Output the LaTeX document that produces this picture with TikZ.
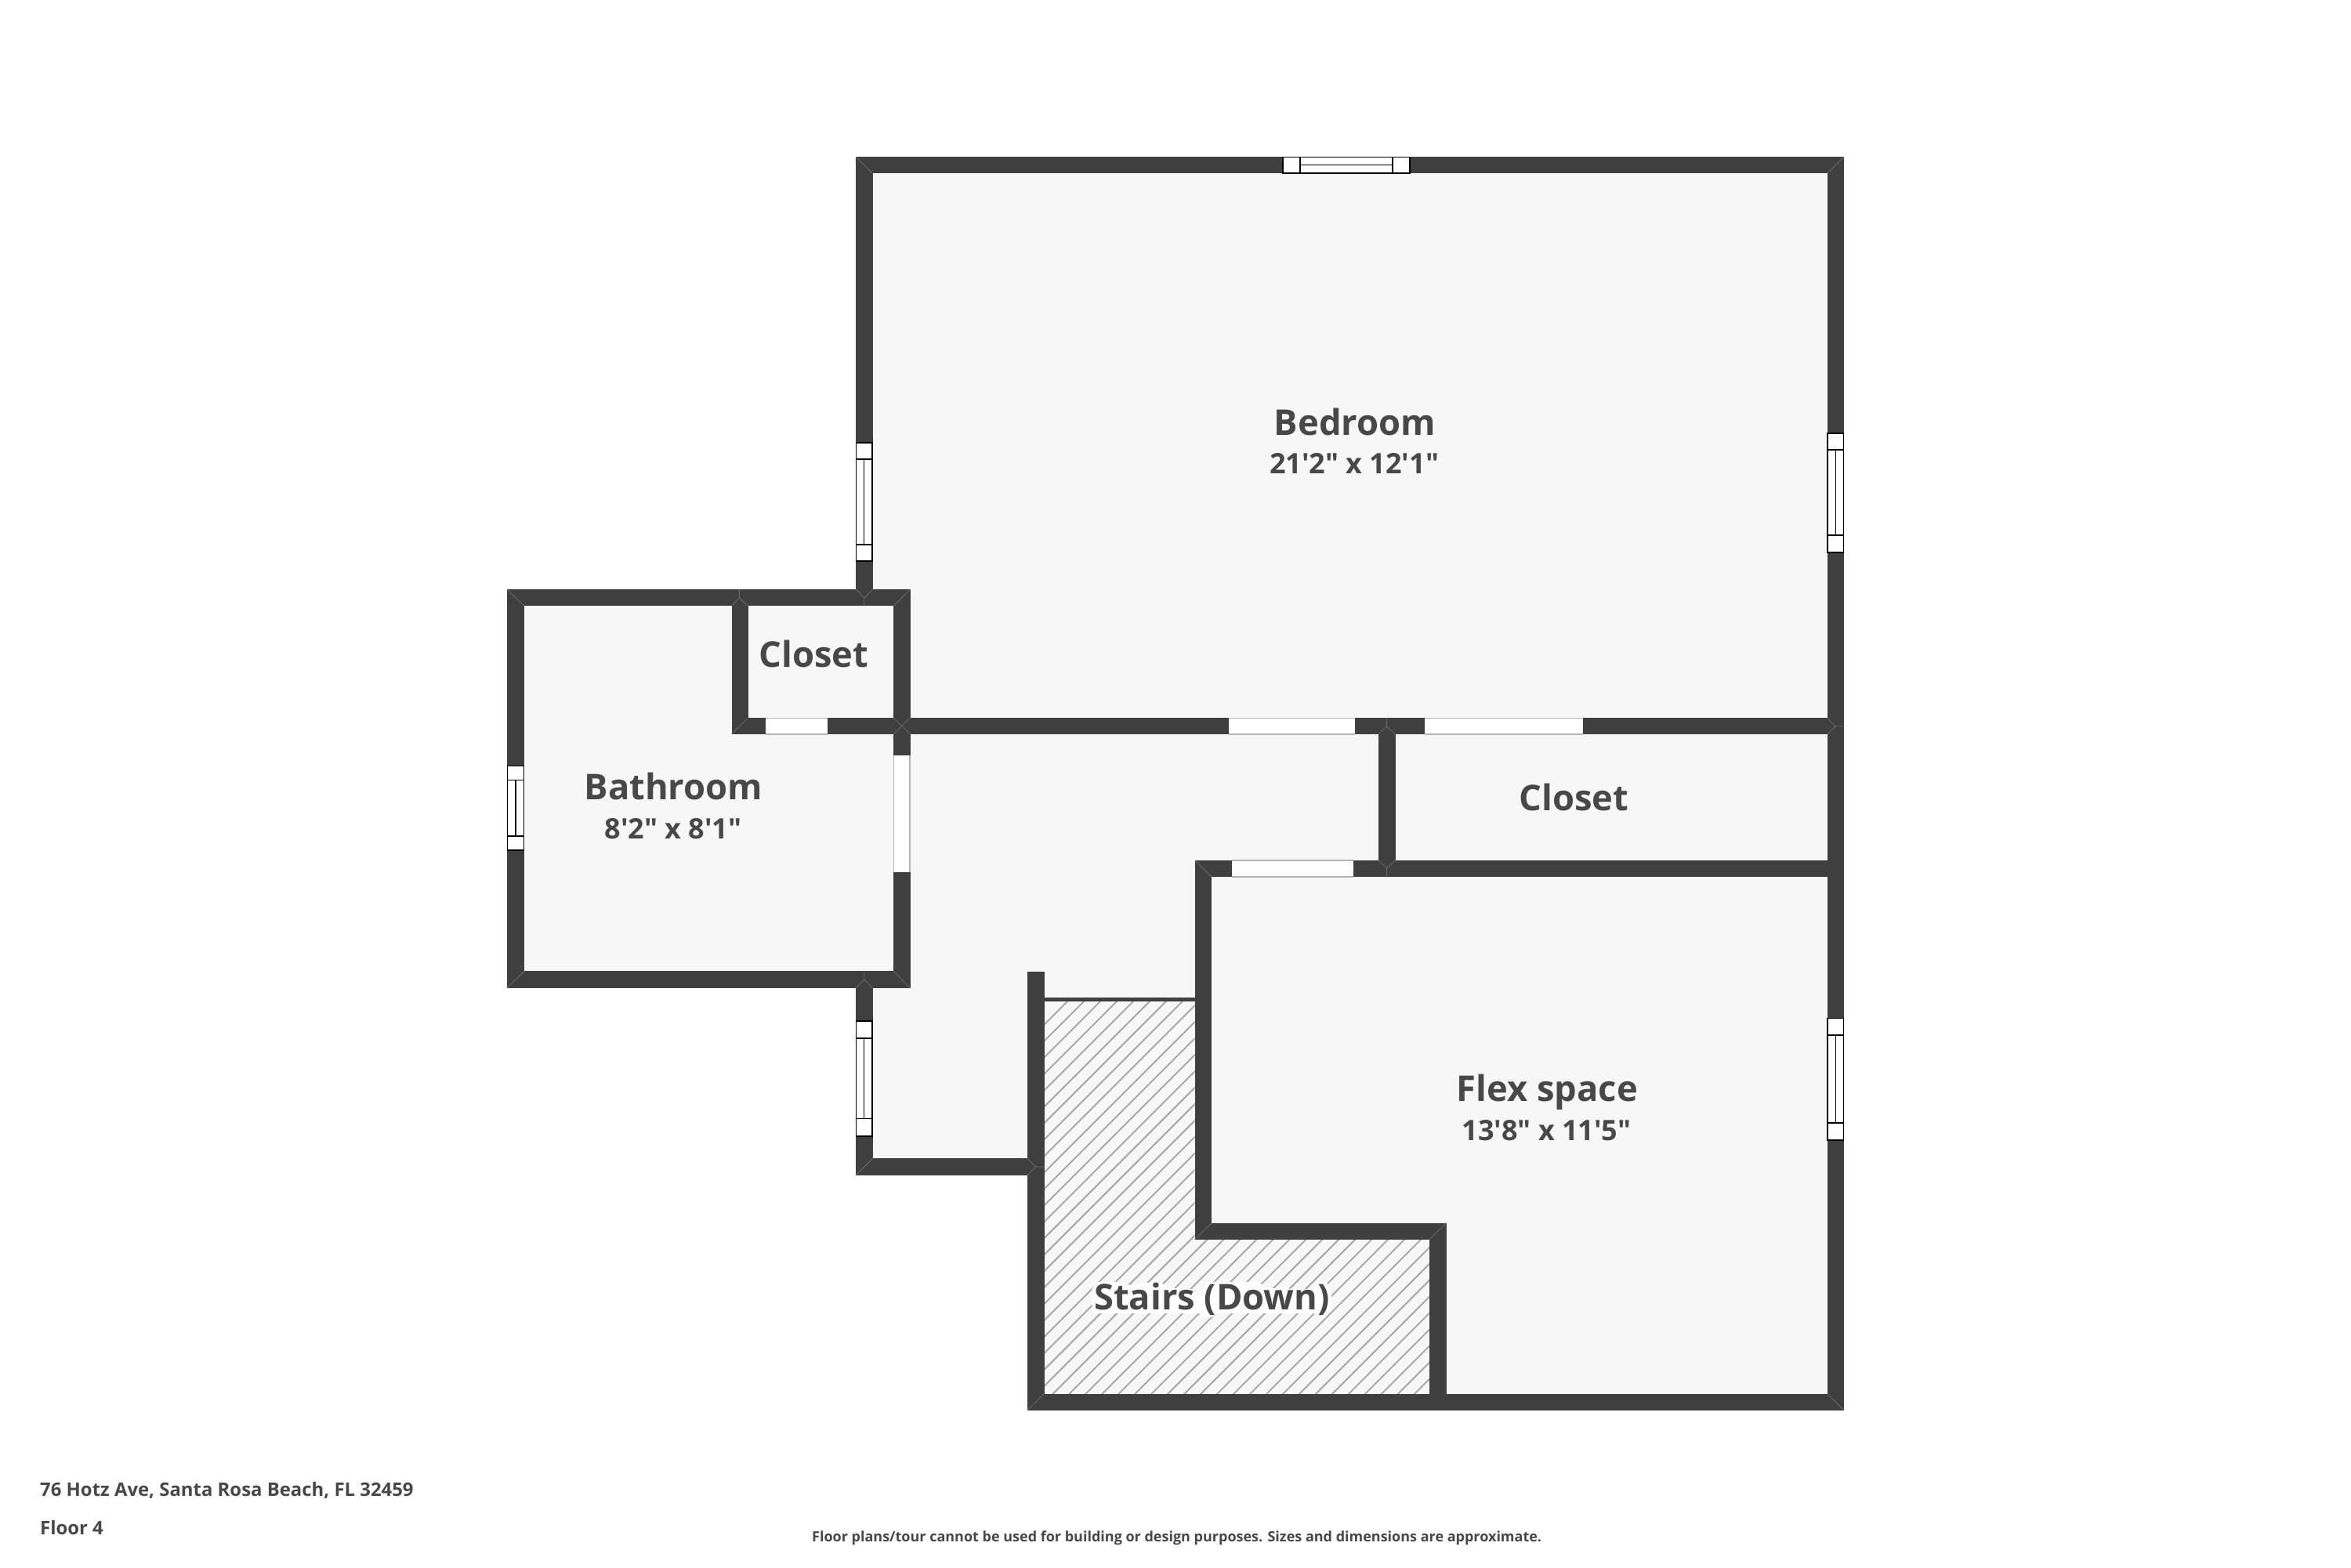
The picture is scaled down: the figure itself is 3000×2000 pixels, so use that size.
\documentclass[tikz,border=0pt]{standalone}
\usepackage{fontspec}
\setmainfont{Open Sans}[Ligatures=TeXOff]
\definecolor{wallc}{HTML}{3F3F3F}
\definecolor{floorc}{HTML}{F7F7F7}
\definecolor{hatchc}{HTML}{A9A9A9}
\definecolor{doorc}{HTML}{B4B4B4}
\definecolor{textc}{HTML}{484848}
\definecolor{seamc}{HTML}{6A6A6A}
\tikzset{
  wall/.style={fill=wallc,draw=none},
  seam/.style={draw=seamc,line width=0.8pt},
  hatchline/.style={draw=hatchc,line width=2pt},
  winframe/.style={draw=black,fill=white,line width=1.6pt},
  roomname/.style={font=\bfseries\fontsize{45.3}{45}\selectfont,text=textc,inner sep=0pt,anchor=base},
  roomdim/.style={font=\bfseries\fontsize{36}{36}\selectfont,text=textc,inner sep=0pt,anchor=base},
  foot/.style={font=\bfseries\fontsize{23.9}{25}\selectfont,text=textc,inner sep=0pt,anchor=base west},
  fine/.style={font=\bfseries\fontsize{18}{20}\selectfont,text=textc,inner sep=0pt,anchor=base west}
}
\newcommand{\wrect}[4]{\fill[wall] (#1,#2) rectangle (#3,#4);}
\newcommand{\doorh}[4]{\fill[white] (#1,#2) rectangle (#3,#4);\draw[draw=doorc,line width=1.6pt] (#1,#2)--(#3,#2) (#1,#4)--(#3,#4);}
\newcommand{\doorv}[4]{\fill[white] (#1,#2) rectangle (#3,#4);\draw[draw=doorc,line width=1.6pt] (#1,#2)--(#1,#4) (#3,#2)--(#3,#4);}
% window along a vertical wall: x1 x2 y1 y2 y3 y4
\newcommand{\winv}[6]{\draw[winframe] (#1,#3) rectangle (#2,#6);
  \draw[winframe] (#1,#4) rectangle (#2,#5);
  \draw[black,line width=1.2pt] ({(#1+#2)/2},#4)--({(#1+#2)/2},#5);}
\newcommand{\winh}[6]{\draw[winframe] (#3,#1) rectangle (#6,#2);
  \draw[winframe] (#4,#1) rectangle (#5,#2);
  \draw[black,line width=1.2pt] (#4,{(#1+#2)/2})--(#5,{(#1+#2)/2});}
\begin{document}
\begin{tikzpicture}[x=1pt,y=-1pt]
\useasboundingbox (0,0) rectangle (3000,2000);
\fill[white] (0,0) rectangle (3000,2000);
% floor
\fill[floorc] (1092,200)--(2353,200)--(2353,1799.7)--(1311,1799.7)--(1311,1500)--(1092,1500)--(1092,1261)--(647,1261)--(647,752)--(1092,752)--cycle;
% stair hatching
\begin{scope}
\clip (1332.5,1277)--(1524.6,1277)--(1524.6,1581.7)--(1824,1581.7)--(1824,1778.8)--(1332.5,1778.8)--cycle;
\foreach \k in {0,...,50}{
  \pgfmathsetmacro{\s}{2640+20.97*\k}
  \draw[hatchline] (1300,\s-1300)--(1900,\s-1900);
}
\end{scope}
% halo that follows the outline of the stairs label
\fill[white,rounded corners=3pt] (1393,1645)--(1400,1636)--(1420,1635)--(1440,1640)--(1472,1636)--(1482,1636)--(1488,1643)--(1522,1645)--(1530,1654)--(1533,1648)--(1540,1636)--(1552,1636)--(1605,1636)--(1618,1644)--(1674,1645)--(1682,1636)--(1692,1634)--(1699,1650)--(1699,1665)--(1691,1681)--(1682,1681)--(1678,1676)--(1552,1676)--(1548,1681)--(1538,1681)--(1532,1676)--(1394,1676)--cycle;
% walls
\wrect{1092}{200}{2353}{221.3}
\wrect{1092}{200}{1113.5}{752}
\wrect{2331.7}{200}{2353}{1799.7}
\wrect{1140}{916}{2353}{937}
\wrect{647}{752}{1161.6}{773.4}
\wrect{1140}{752}{1161.6}{1261}
\wrect{933.5}{752}{954.6}{937}
\wrect{933.5}{916}{1161.6}{937}
\wrect{647}{752}{669}{1261}
\wrect{647}{1239.3}{1161.6}{1261}
\wrect{1092}{1261}{1113.5}{1500}
\wrect{1092}{1478.4}{1332.5}{1500}
\wrect{1311}{1240}{1332.5}{1799.7}
\wrect{1311}{1778.6}{2353}{1799.7}
\wrect{1332.5}{1273}{1524.6}{1277.5}
\wrect{1524.6}{1098}{1546}{1581.7}
\wrect{1524.6}{1560.7}{1845.5}{1581.7}
\wrect{1824}{1560.7}{1845.5}{1799.7}
\wrect{1525}{1098}{2353}{1119}
\wrect{1759}{916}{1780.7}{1119}
% wall seams
\draw[seam] (1092,200)--(1113.6,221.3);
\draw[seam] (2353,200)--(2331.7,221.3);
\draw[seam] (647,752)--(669,773.4);
\draw[seam] (647,1261)--(669,1239.3);
\draw[seam] (1161.6,752)--(1140,773.4);
\draw[seam] (1161.6,1261)--(1140,1239.3);
\draw[seam] (943.5,752)--(943.5,763) (933.5,773.4)--(943.5,763)--(954.6,773.4);
\draw[seam] (1092,752)--(1102.8,763)--(1113.5,752) (1102.8,763)--(1102.8,773.4);
\draw[seam] (1102.8,1239.3)--(1102.8,1250) (1092,1261)--(1102.8,1250)--(1113.5,1261);
\draw[seam] (933.5,937)--(954.6,916);
\draw[seam] (1140,916)--(1161.6,937) (1161.6,916)--(1140,937);
\draw[seam] (1092,1500)--(1113.5,1478.4);
\draw[seam] (1311,1478.4)--(1321.5,1489)--(1311,1500) (1321.5,1489)--(1332.5,1489);
\draw[seam] (1311,1799.7)--(1332.5,1778.6);
\draw[seam] (1524.6,1581.7)--(1546,1560.7);
\draw[seam] (1845.5,1560.7)--(1824,1581.7);
\draw[seam] (2331.7,1778.6)--(2353,1799.7);
\draw[seam] (1525,1098)--(1546,1119);
\draw[seam] (1769.5,916)--(1769.5,927) (1759,937)--(1769.5,927)--(1780.7,937);
\draw[seam] (1769.5,1119)--(1769.5,1108) (1759,1098)--(1769.5,1108)--(1780.7,1098);
\draw[seam] (2331.7,916)--(2342,927)--(2331.7,937) (2342,927)--(2353,927);
% doors
\doorh{977}{916.5}{1056.4}{937}
\doorh{1567.7}{916.5}{1728.5}{937}
\doorh{1817.5}{916.5}{2020}{937}
\doorh{1571.8}{1098}{1727.3}{1119}
\doorv{1140.5}{963.8}{1161.2}{1112.6}
% windows
\winh{200.5}{221}{1637}{1659}{1777}{1799}
\winv{1092.5}{1113}{565}{586}{695}{716}
\winv{647.5}{668.5}{977.6}{995.5}{1067}{1085}
\winv{1092.5}{1113}{1303}{1325}{1427.5}{1449.7}
\winv{2332}{2352.5}{553}{574}{683}{705}
\winv{2332}{2352.5}{1299.5}{1320.7}{1433}{1455}
% labels
\node[roomname] (bedroom) at (1729,555) {Bedroom};
\node[roomdim] (bedroomdim) at (1728,604.7) {21'2" x 12'1"};
\node[roomname] (closeta) at (1038.5,851) {Closet};
\node[roomname] (bathroom) at (859.5,1020.6) {Bathroom};
\node[roomdim] (bathroomdim) at (859,1070) {8'2" x 8'1"};
\node[roomname] (closetb) at (2008.5,1034) {Closet};
\node[roomname] (flex) at (1974.5,1405) {Flex space};
\node[roomdim] (flexdim) at (1973.5,1455) {13'8" x 11'5"};
\node[roomname] (stairs) at (1546.5,1671.7) {Stairs (Down)};
\node[foot] (addr) at (51,1909) {76 Hotz Ave, Santa Rosa Beach, FL 32459};
\node[foot] (floor) at (51,1958) {Floor 4};
\node[fine] (note) at (1036,1967) {Floor plans/tour cannot be used for building or design purposes. Sizes and dimensions are approximate.};
\end{tikzpicture}
\end{document}
